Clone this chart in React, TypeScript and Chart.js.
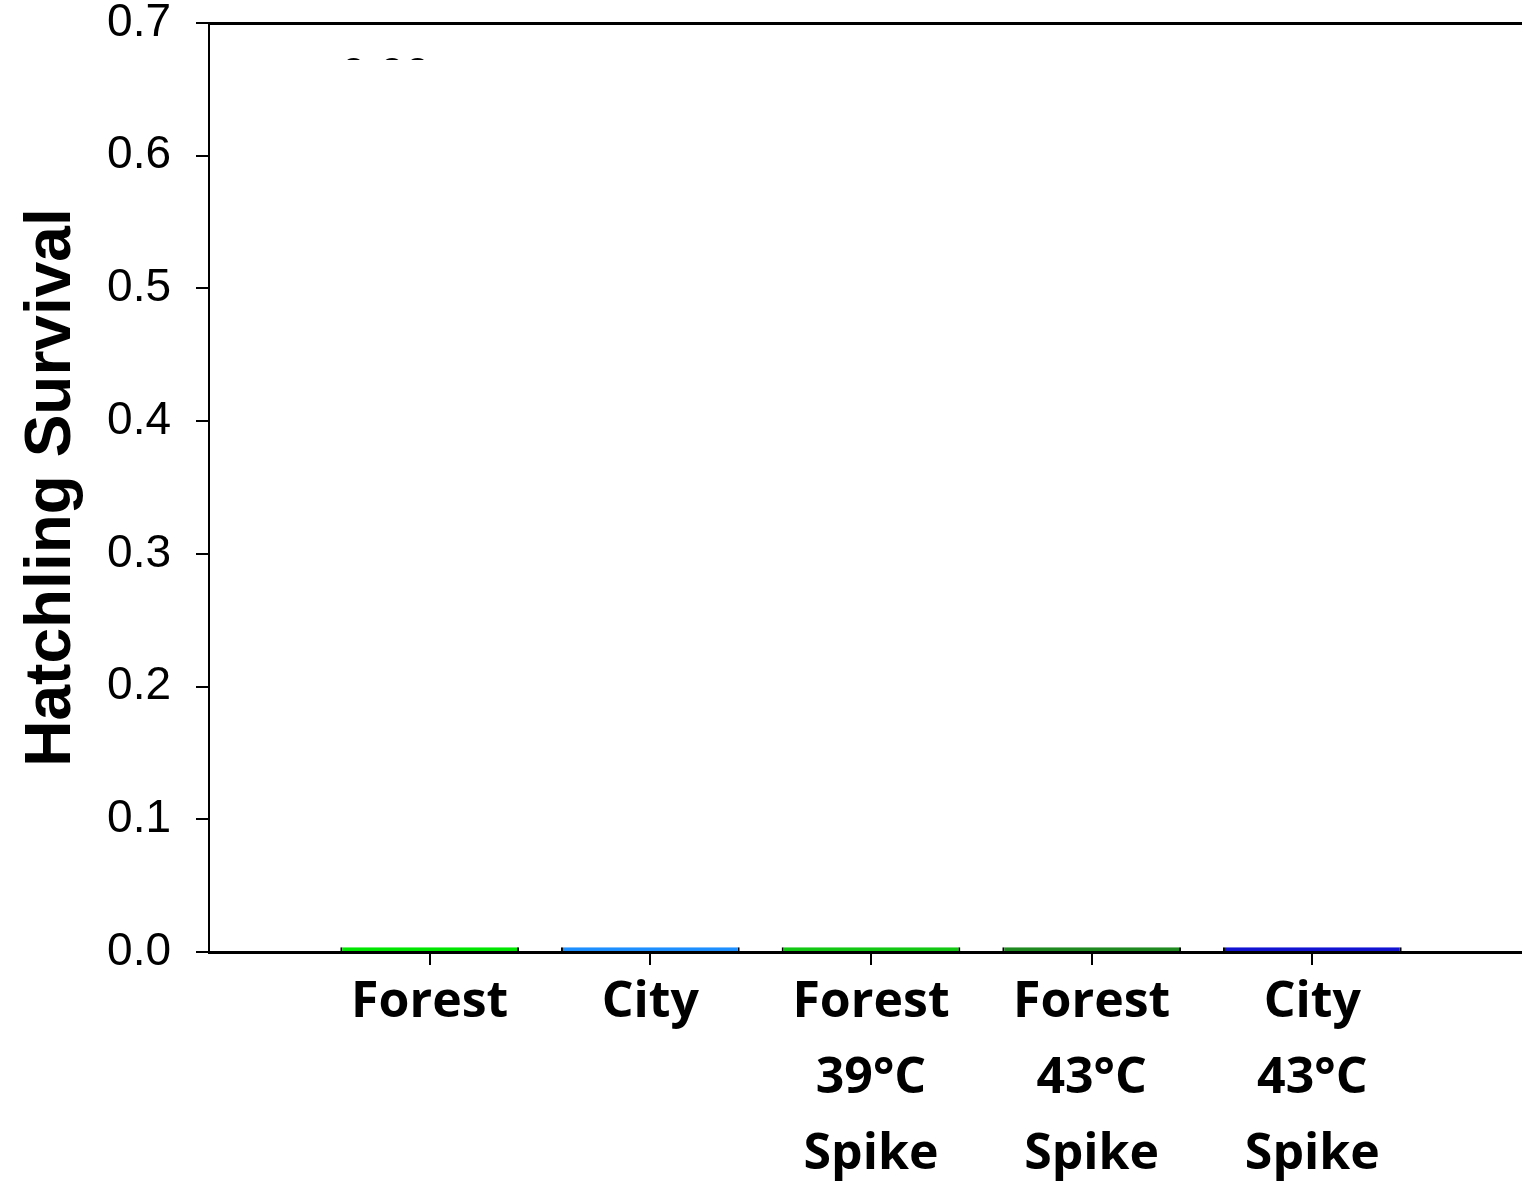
import { useEffect, useRef } from 'react';
import { Chart, registerables } from 'chart.js';

Chart.register(...registerables);

const categories: string[][] = [
  ['Forest'],
  ['City'],
  ['Forest', '39°C', 'Spike'],
  ['Forest', '43°C', 'Spike'],
  ['City', '43°C', 'Spike'],
];
const survival: number[] = [0.0035, 0.0035, 0.0035, 0.0035, 0.0035];
const barColors: string[] = ['#00e600', '#1e8fff', '#12c812', '#1f8a1f', '#1212d2'];
const yMin = 0;
const yMax = 0.7;
const yStep = 0.1;
const yAxisTitle = 'Hatchling Survival';
const clippedLabel = '0.00';

const ARIAL = "'Liberation Sans', Arial, sans-serif";
const LABEL_FONT = "'Open Sans', sans-serif";

const framePlugin = {
  id: 'frameAndClipped',
  afterDatasetsDraw(chart: any) {
    const { ctx, chartArea } = chart;
    const { left, right, top } = chartArea;
    ctx.save();
    ctx.strokeStyle = '#000';
    ctx.lineWidth = 3;
    ctx.beginPath();
    ctx.moveTo(left, top + 0.5);
    ctx.lineTo(right, top + 0.5);
    ctx.stroke();
    ctx.beginPath();
    ctx.rect(left, top + 2, right - left, 35);
    ctx.clip();
    ctx.font = `46px ${ARIAL}`;
    ctx.fillStyle = '#000';
    ctx.textAlign = 'center';
    ctx.textBaseline = 'alphabetic';
    ctx.fillText(clippedLabel, chart.scales.x.getPixelForValue(0.8), top + 67);
    ctx.restore();
  },
};

export default function App() {
  const ref = useRef<HTMLCanvasElement>(null);

  useEffect(() => {
    if (!ref.current) return;
    const chart = new Chart(ref.current, {
      type: 'bar',
      data: {
        datasets: [
          {
            data: survival.map((v, i) => ({ x: i + 1, y: v })),
            backgroundColor: barColors,
            borderColor: '#000',
            borderWidth: { left: 2, right: 2, top: 0, bottom: 0 },
            borderSkipped: false,
            categoryPercentage: 1,
            barPercentage: 0.81,
          },
        ],
      },
      options: {
        responsive: false,
        animation: false,
        layout: { padding: { top: 0, right: 0, bottom: 0, left: 0 } },
        plugins: {
          legend: { display: false },
          tooltip: { enabled: false },
          title: { display: false },
        },
        scales: {
          x: {
            type: 'linear',
            min: 0,
            max: categories.length + 1,
            offset: false,
            grid: {
              offset: false,
              drawOnChartArea: false,
              drawTicks: true,
              tickLength: 13,
              lineWidth: 2,
              color: (ctx: any) =>
                ctx.tick && ctx.tick.value >= 1 && ctx.tick.value <= categories.length
                  ? '#000'
                  : 'rgba(0,0,0,0)',
            },
            border: { display: true, color: '#000', width: 3 },
            ticks: {
              stepSize: 1,
              autoSkip: false,
              maxRotation: 0,
              minRotation: 0,
              padding: 0,
              color: '#000',
              font: { family: LABEL_FONT, size: 50, weight: 'bold', lineHeight: 1.52 },
              callback: (v: any) => categories[Number(v) - 1] ?? '',
            },
            afterFit: (s: any) => {
              s.height = 234;
            },
          },
          y: {
            min: yMin,
            max: yMax,
            grid: {
              drawOnChartArea: false,
              drawTicks: true,
              tickLength: 13,
              lineWidth: 2,
              color: '#000',
            },
            border: { display: true, color: '#000', width: 2 },
            ticks: {
              stepSize: yStep,
              padding: 25,
              color: '#000',
              font: { family: ARIAL, size: 46, lineHeight: 1.0 },
              callback: (v: any) => Number(v).toFixed(1),
            },
            title: {
              display: true,
              text: yAxisTitle,
              color: '#000',
              font: { family: ARIAL, size: 64, weight: 'bold', lineHeight: 1.2 },
              padding: { top: 14, bottom: 0 },
            },
            afterFit: (s: any) => {
              s.width = 209;
              s.paddingTop = 23;
              s.paddingBottom = 0;
            },
          },
        },
      } as any,
      plugins: [framePlugin],
    });
    return () => chart.destroy();
  }, []);

  return (
    <div
      style={{
        position: 'fixed',
        left: 0,
        top: 0,
        width: 1522,
        height: 1186,
        overflow: 'hidden',
        background: '#fff',
      }}
    >
      <canvas ref={ref} width={1533} height={1186} style={{ display: 'block' }} />
    </div>
  );
}
